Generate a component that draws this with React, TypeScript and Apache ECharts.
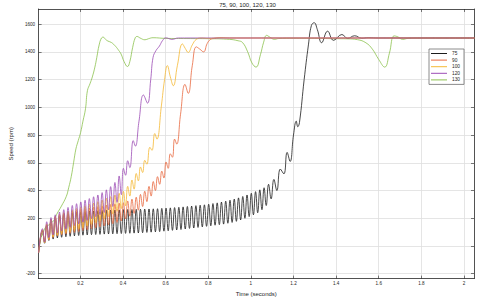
import React, { useEffect, useRef } from "react";
import * as echarts from "echarts";

const TITLE = "75, 90, 100, 120, 130";
const X_NAME = "Time (seconds)";
const Y_NAME = "Speed (rpm)";
const SERIES_NAMES = ["75", "90", "100", "120", "130"];
const COLORS: Record<string, string> = {
  "75": "#1c1c1c",
  "90": "#e9683f",
  "100": "#f5b935",
  "120": "#9c4db5",
  "130": "#8cc24e",
};
const X_TICKS = [0.2, 0.4, 0.6, 0.8, 1, 1.2, 1.4, 1.6, 1.8, 2];
const Y_TICKS = [-200, 0, 200, 400, 600, 800, 1000, 1200, 1400, 1600];
const X_MIN = 0.004;
const X_MAX = 2.047;
const Y_MIN = -235;
const Y_MAX = 1709;

// common first sample
const START: [number, number] = [0.004, -48];
// oscillating part: samples every 0.01 s starting at 0.022 (peak, trough, peak, ...)
const OSC_T0 = 0.022;
const OSC_DT = 0.01;

const osc75 = [
  110, 20, 150, 40, 185, 50, 205, 58, 218, 63, 228, 67, 235, 70, 240, 73, 244, 76, 247, 78,
  249, 80, 251, 82, 252, 83, 254, 84, 256, 86, 257, 87, 258, 88, 259, 89, 260, 90, 262, 91,
  263, 92, 263, 93, 264, 94, 265, 96, 266, 98, 267, 100, 268, 102, 269, 104, 271, 107, 273, 110,
  275, 113, 277, 116, 279, 119, 282, 123, 285, 127, 288, 130, 291, 134, 294, 138, 297, 142, 301, 146,
  306, 150, 311, 154, 317, 158, 323, 164, 330, 170, 338, 178, 347, 188, 357, 200, 368, 212, 380, 225,
];
const tail75: [number, number][] = [
  [1.022, 392], [1.032, 240], [1.042, 405], [1.052, 262], [1.062, 420], [1.072, 292],
  [1.083, 445], [1.095, 340], [1.108, 480], [1.122, 400], [1.138, 555], [1.155, 520],
  [1.17, 675], [1.184, 610], [1.2, 800], [1.213, 900], [1.22, 860], [1.228, 890],
  [1.25, 1200], [1.27, 1450], [1.284, 1590], [1.297, 1610], [1.312, 1560], [1.332, 1466],
  [1.36, 1549], [1.388, 1483], [1.427, 1525], [1.454, 1497], [1.487, 1516], [1.52, 1498],
  [1.55, 1502], [1.6, 1500], [2.05, 1500],
];

const osc90 = [
  115, 25, 155, 45, 190, 60, 210, 72, 225, 80, 235, 86, 243, 92, 250, 98, 257, 104, 264, 112,
  269, 118, 274, 124, 279, 131, 284, 138, 290, 146, 294, 153, 299, 161, 304, 170, 309, 180, 312, 195,
  325, 215, 338, 235, 352, 258, 372, 285, 395, 320, 430, 360, 465, 400, 500, 445, 540, 490,
];
const tail90: [number, number][] = [
  [0.602, 606], [0.612, 560], [0.622, 665], [0.632, 640], [0.642, 771], [0.652, 735],
  [0.67, 950], [0.691, 1165], [0.706, 1101], [0.725, 1300], [0.744, 1436], [0.76, 1420],
  [0.778, 1400], [0.795, 1460], [0.811, 1490], [0.83, 1497], [0.86, 1502], [0.9, 1500],
  [2.05, 1500],
];

const osc100 = [
  118, 25, 160, 48, 195, 65, 215, 78, 230, 88, 242, 96, 252, 104, 261, 112, 270, 121, 280, 132,
  290, 144, 300, 156, 310, 168, 320, 182, 332, 197, 344, 213, 356, 230, 368, 250, 380, 270, 394, 290,
];
const tail100: [number, number][] = [
  [0.422, 430], [0.432, 360], [0.442, 476], [0.452, 410], [0.462, 523], [0.472, 470],
  [0.482, 570], [0.492, 530], [0.502, 618], [0.512, 590], [0.526, 712], [0.536, 690],
  [0.549, 811], [0.559, 771], [0.58, 1010], [0.595, 1200], [0.608, 1301], [0.622, 1220],
  [0.636, 1156], [0.655, 1300], [0.679, 1457], [0.692, 1425], [0.706, 1396], [0.725, 1450],
  [0.744, 1490], [0.77, 1500], [0.8, 1497], [0.85, 1502], [0.9, 1500], [2.05, 1500],
];

const osc120 = [
  125, 30, 175, 60, 205, 80, 225, 95, 245, 110, 262, 122, 278, 135, 292, 148, 305, 160, 318, 172,
  330, 185, 342, 198, 355, 212, 368, 226, 385, 242, 405, 262, 428, 285, 458, 315, 505, 370,
];
const tail120: [number, number][] = [
  [0.402, 560], [0.412, 510], [0.422, 615], [0.432, 565], [0.448, 760], [0.458, 720],
  [0.475, 900], [0.496, 1089], [0.515, 1030], [0.53, 1200], [0.541, 1360], [0.555, 1410],
  [0.571, 1442], [0.585, 1480], [0.601, 1501], [0.63, 1490], [0.66, 1500], [0.7, 1500],
  [2.05, 1500],
];

const curve130: [number, number][] = [
  [0.004, -48], [0.014, 52], [0.024, 90], [0.036, 134], [0.05, 150], [0.074, 182],
  [0.089, 229], [0.111, 288], [0.134, 358], [0.145, 420], [0.157, 500], [0.168, 600],
  [0.179, 700], [0.19, 760], [0.201, 818], [0.212, 900], [0.224, 990], [0.233, 1120],
  [0.245, 1170], [0.256, 1219], [0.268, 1290], [0.277, 1360], [0.288, 1450], [0.299, 1500],
  [0.307, 1506], [0.318, 1490], [0.329, 1478], [0.346, 1467], [0.365, 1440], [0.38, 1410],
  [0.391, 1384], [0.405, 1330], [0.421, 1294], [0.432, 1330], [0.445, 1430], [0.457, 1500],
  [0.466, 1511], [0.48, 1500], [0.503, 1487], [0.52, 1495], [0.541, 1502], [0.6, 1497],
  [0.7, 1496], [0.8, 1495], [0.9, 1490], [0.94, 1480], [0.961, 1467], [0.985, 1400],
  [1.005, 1320], [1.024, 1290], [1.045, 1380], [1.06, 1470], [1.074, 1519], [1.09, 1505],
  [1.111, 1490], [1.13, 1496], [1.2, 1498], [1.3, 1497], [1.4, 1495], [1.45, 1494],
  [1.5, 1488], [1.54, 1465], [1.57, 1420], [1.6, 1345], [1.628, 1290], [1.65, 1390],
  [1.672, 1515], [1.69, 1508], [1.712, 1490], [1.74, 1498], [1.8, 1500], [2.05, 1500],
];

function build(osc: number[], tail: [number, number][]): [number, number][] {
  const pts: [number, number][] = [START];
  osc.forEach((v, i) => pts.push([+(OSC_T0 + i * OSC_DT).toFixed(3), v]));
  return pts.concat(tail);
}

const DATA: Record<string, [number, number][]> = {
  "75": build(osc75, tail75),
  "90": build(osc90, tail90),
  "100": build(osc100, tail100),
  "120": build(osc120, tail120),
  "130": curve130,
};

const DRAW_ORDER = ["130", "75", "90", "100", "120"];
const FONT = "Liberation Sans";
const AXIS_COLOR = "#262626";
const GRID_COLOR = "#dedede";

export default function App() {
  const ref = useRef<HTMLDivElement>(null);
  useEffect(() => {
    if (!ref.current) return;
    const chart = echarts.init(ref.current, undefined, { renderer: "svg" });
    const fmt = (v: number) => String(+v.toFixed(1));
    const boxAxis = {
      axisLine: { show: true, onZero: false, lineStyle: { color: AXIS_COLOR, width: 0.8 } },
      axisLabel: { show: false },
      splitLine: { show: false },
    };
    chart.setOption({
      animation: false,
      backgroundColor: "#ffffff",
      textStyle: { fontFamily: FONT },
      title: {
        text: TITLE,
        left: 247.5,
        top: 1.5,
        padding: 0,
        textAlign: "center",
        textStyle: { fontSize: 6, fontWeight: "normal", color: AXIS_COLOR, fontFamily: FONT },
      },
      legend: {
        data: SERIES_NAMES.map((n) => ({ name: n, icon: "rect" })),
        orient: "vertical",
        left: 429,
        top: 49,
        padding: [2, 4, 2, 2],
        itemWidth: 16,
        itemHeight: 1,
        itemGap: 1.6,
        backgroundColor: "#ffffff",
        borderColor: "#6e6e6e",
        borderWidth: 0.8,
        borderRadius: 0,
        textStyle: { fontSize: 4.8, color: AXIS_COLOR, fontFamily: FONT, lineHeight: 5 },
      },
      grid: { left: 21, right: 6, top: 9, bottom: 18 },
      xAxis: [
        {
          type: "value",
          min: X_MIN,
          max: X_MAX,
          position: "bottom",
          name: X_NAME,
          nameLocation: "middle",
          nameGap: 9.5,
          nameTextStyle: { fontSize: 6, color: AXIS_COLOR, fontFamily: FONT },
          axisLine: { show: true, onZero: false, lineStyle: { color: AXIS_COLOR, width: 0.8 } },
          axisTick: { show: true, inside: true, length: 3, customValues: X_TICKS, lineStyle: { color: AXIS_COLOR, width: 0.6 } },
          axisLabel: { customValues: X_TICKS, fontSize: 4.6, color: AXIS_COLOR, margin: 2.5, formatter: fmt, fontFamily: FONT },
          splitLine: { show: true, lineStyle: { color: GRID_COLOR, width: 0.8 } },
        },
        {
          type: "value",
          min: X_MIN,
          max: X_MAX,
          position: "top",
          ...boxAxis,
          axisTick: { show: true, inside: true, length: 3, customValues: X_TICKS, lineStyle: { color: AXIS_COLOR, width: 0.6 } },
        },
      ],
      yAxis: [
        {
          type: "value",
          min: Y_MIN,
          max: Y_MAX,
          position: "left",
          name: Y_NAME,
          nameLocation: "middle",
          nameGap: 15,
          nameTextStyle: { fontSize: 6, color: AXIS_COLOR, fontFamily: FONT },
          axisLine: { show: true, onZero: false, lineStyle: { color: AXIS_COLOR, width: 0.8 } },
          axisTick: { show: true, inside: true, length: 3, customValues: Y_TICKS, lineStyle: { color: AXIS_COLOR, width: 0.6 } },
          axisLabel: { customValues: Y_TICKS, fontSize: 4.6, color: AXIS_COLOR, margin: 3.5, fontFamily: FONT, formatter: (v: number) => String(v) },
          splitLine: { show: true, lineStyle: { color: GRID_COLOR, width: 0.8 } },
        },
        {
          type: "value",
          min: Y_MIN,
          max: Y_MAX,
          position: "right",
          ...boxAxis,
          axisTick: { show: true, inside: true, length: 3, customValues: Y_TICKS, lineStyle: { color: AXIS_COLOR, width: 0.6 } },
        },
      ],
      series: DRAW_ORDER.map((name) => ({
        name,
        type: "line",
        xAxisIndex: 0,
        yAxisIndex: 0,
        data: DATA[name],
        showSymbol: false,
        symbol: "none",
        smooth: 0.45,
        color: COLORS[name],
        itemStyle: { color: COLORS[name] },
        lineStyle: { width: 0.8, color: COLORS[name] },
      })),
    });
    return () => chart.dispose();
  }, []);
  return (
    <div
      ref={ref}
      style={{ position: "absolute", left: 0, top: 0, width: 480, height: 302, background: "#fff" }}
    />
  );
}
